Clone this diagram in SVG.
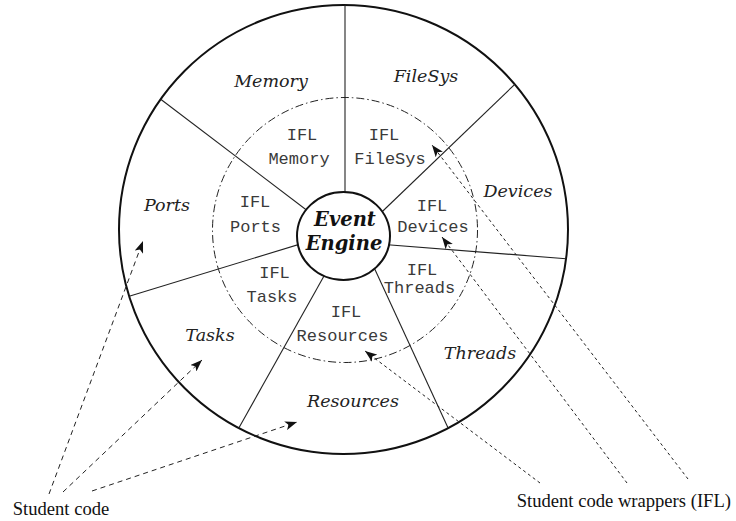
<svg xmlns="http://www.w3.org/2000/svg" width="736" height="521" viewBox="0 0 736 521">
  <style>
    .ring { fill: none; stroke: #111; stroke-width: 2; }
    .spoke { stroke: #222; stroke-width: 1.1; fill: none; }
    .dashdot { fill: none; stroke: #222; stroke-width: 1; stroke-dasharray: 8 3 1.5 3; }
    .sector { font-family: "DejaVu Serif", serif; font-style: italic; font-size: 17.5px; fill: #222; text-anchor: middle; }
    .ifl { font-family: "Liberation Mono", "Courier New", monospace; font-size: 17px; fill: #3a3a3a; text-anchor: middle; }
    .engine { font-family: "DejaVu Serif", serif; font-style: italic; font-weight: bold; font-size: 19.5px; fill: #111; text-anchor: middle; }
    .caption { font-family: "Liberation Serif", "Times New Roman", serif; font-size: 18.6px; fill: #111; }
    .dash1 { fill: none; stroke: #222; stroke-width: 1; stroke-dasharray: 5 4; marker-end: url(#arrow); }
    .dash2 { fill: none; stroke: #222; stroke-width: 1; stroke-dasharray: 3 3; marker-end: url(#arrow); }
  </style>
  <defs>
    <marker id="arrow" markerUnits="userSpaceOnUse" markerWidth="13" markerHeight="9" refX="12" refY="4.5" orient="auto">
      <path d="M0,0 L12,4.5 L0,9 L3,4.5 z" fill="#111"/>
    </marker>
  </defs>

  <g id="wheel">
    <circle class="ring" cx="343.5" cy="229.5" r="224.5"/>
    <circle class="dashdot" cx="345" cy="230" r="132.5"/>
  </g>

  <g id="spokes">
    <line class="spoke" x1="345" y1="215" x2="345" y2="5"/>
    <line class="spoke" x1="315" y1="216.5" x2="160.7" y2="99.2"/>
    <line class="spoke" x1="374" y1="219.5" x2="514.8" y2="84.3"/>
    <line class="spoke" x1="375" y1="243.8" x2="566.1" y2="258.7"/>
    <line class="spoke" x1="313" y1="240.1" x2="129.2" y2="296.3"/>
    <line class="spoke" x1="332" y1="261.7" x2="238.8" y2="428.1"/>
    <line class="spoke" x1="370" y1="258.8" x2="448.1" y2="428.1"/>
  </g>

  <g id="event-engine">
    <ellipse cx="343.5" cy="236" rx="46.5" ry="44" fill="#fff" stroke="#111" stroke-width="2"/>
    <text class="engine" x="345" y="225.5">Event</text>
    <text class="engine" x="344" y="249.5">Engine</text>
  </g>

  <g id="memory"><text class="sector" x="271" y="87">Memory</text></g>
  <g id="filesys"><text class="sector" x="426" y="82">FileSys</text></g>
  <g id="devices"><text class="sector" x="518" y="197">Devices</text></g>
  <g id="ports"><text class="sector" x="167" y="211">Ports</text></g>
  <g id="tasks"><text class="sector" x="210" y="341">Tasks</text></g>
  <g id="resources"><text class="sector" x="353" y="407">Resources</text></g>
  <g id="threads"><text class="sector" x="480" y="359">Threads</text></g>

  <g id="ifl-memory"><text class="ifl" x="302" y="140">IFL</text><text class="ifl" x="299" y="164">Memory</text></g>
  <g id="ifl-filesys"><text class="ifl" x="384" y="140">IFL</text><text class="ifl" x="390" y="164">FileSys</text></g>
  <g id="ifl-ports"><text class="ifl" x="255" y="207">IFL</text><text class="ifl" x="255.5" y="232">Ports</text></g>
  <g id="ifl-devices"><text class="ifl" x="432" y="211">IFL</text><text class="ifl" x="433" y="231.5">Devices</text></g>
  <g id="ifl-tasks"><text class="ifl" x="274.5" y="278">IFL</text><text class="ifl" x="272" y="302">Tasks</text></g>
  <g id="ifl-threads"><text class="ifl" x="422" y="275">IFL</text><text class="ifl" x="419.5" y="293">Threads</text></g>
  <g id="ifl-resources"><text class="ifl" x="346" y="317">IFL</text><text class="ifl" x="342.5" y="340.5">Resources</text></g>

  <g id="student-code"><text class="caption" x="12.7" y="515">Student code</text></g>
  <g id="student-code-wrappers"><text class="caption" x="516.7" y="507">Student code wrappers (IFL)</text></g>

  <g id="connectors">
    <line class="dash1" x1="49" y1="494" x2="143" y2="241"/>
    <line class="dash1" x1="63" y1="492" x2="202" y2="360"/>
    <line class="dash1" x1="92" y1="491" x2="297" y2="422"/>
    <line class="dash2" x1="540" y1="483" x2="365" y2="351"/>
    <line class="dash2" x1="627" y1="483" x2="442" y2="237"/>
    <line class="dash2" x1="688" y1="479" x2="432" y2="145"/>
  </g>
</svg>
